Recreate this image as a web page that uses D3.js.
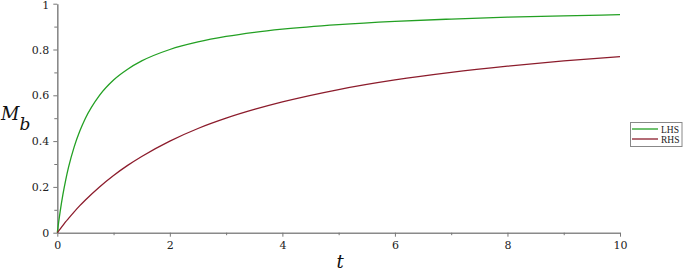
<!DOCTYPE html>
<html>
<head>
<meta charset="utf-8">
<script src="https://cdn.jsdelivr.net/npm/d3@7"></script>
<style>
  html, body { margin: 0; padding: 0; background: #fff; }
  svg { display: block; }
</style>
</head>
<body>
<svg id="chart" width="685" height="271"></svg>
<script>
// Data
const tValues = [0, 0.025, 0.05, 0.1, 0.15, 0.2, 0.3, 0.4, 0.5, 0.75, 1, 1.25, 1.5, 2, 2.5, 3, 3.5, 4, 5, 6, 7, 8, 9, 10];
const lhsValues = [0, 0.048, 0.091, 0.167, 0.231, 0.286, 0.375, 0.444, 0.5, 0.6, 0.667, 0.714, 0.75, 0.8, 0.833, 0.857, 0.875, 0.889, 0.909, 0.923, 0.933, 0.941, 0.947, 0.952];
const rhsValues = [0, 0.008, 0.016, 0.032, 0.048, 0.0625, 0.091, 0.118, 0.143, 0.2, 0.25, 0.294, 0.333, 0.4, 0.455, 0.5, 0.538, 0.571, 0.625, 0.667, 0.7, 0.727, 0.75, 0.769];
const seriesNames = ["LHS", "RHS"];
const seriesColors = ["#23a023", "#8c1c2c"];
const xMajorTicks = [0, 2, 4, 6, 8, 10];
const xMinorTicks = [1, 3, 5, 7, 9];
const yMajorTicks = [0, 0.2, 0.4, 0.6, 0.8, 1];
const yMinorTicks = [0.1, 0.3, 0.5, 0.7, 0.9];

const svg = d3.select("#chart");
const x = d3.scaleLinear().domain([0, 10]).range([57.3, 620]);
const y = d3.scaleLinear().domain([0, 1]).range([232.7, 3.7]);

const axisColor = "#8a8a8a";
const tickFont = "'DejaVu Serif', serif";

function styleAxis(g) {
  g.select(".domain").attr("stroke", axisColor).attr("stroke-width", 1.6);
  g.selectAll(".tick line").attr("stroke", "#777").attr("stroke-width", 1);
  g.selectAll(".tick text").attr("fill", "#222").style("font-family", tickFont).style("font-size", "11px");
}

// X axis
const gx = svg.append("g").attr("transform", `translate(0,${y(0)})`);
gx.call(d3.axisBottom(x).tickValues(xMajorTicks).tickSize(4).tickSizeOuter(0).tickPadding(5).tickFormat(d3.format("d")));
styleAxis(gx);
const gxm = svg.append("g").attr("transform", `translate(0,${y(0)})`);
gxm.call(d3.axisBottom(x).tickValues(xMinorTicks).tickSize(2.5).tickSizeOuter(0).tickFormat(""));
gxm.select(".domain").remove();
gxm.selectAll(".tick line").attr("stroke", "#777");

// Y axis
const gy = svg.append("g").attr("transform", `translate(${x(0)},0)`);
gy.call(d3.axisLeft(y).tickValues(yMajorTicks).tickSize(4).tickSizeOuter(0).tickPadding(4).tickFormat(d => d === 0 ? "0" : d === 1 ? "1" : d3.format(".1f")(d)));
styleAxis(gy);
// keep the top label inside the picture
gy.selectAll(".tick").filter(d => d === 1).select("text").attr("y", 1.5);
const gym = svg.append("g").attr("transform", `translate(${x(0)},0)`);
gym.call(d3.axisLeft(y).tickValues(yMinorTicks).tickSize(3).tickSizeOuter(0).tickFormat(""));
gym.select(".domain").remove();
gym.selectAll(".tick line").attr("stroke", "#777");

// Lines
const series = [lhsValues, rhsValues];
const line = d3.line().x((d, i) => x(tValues[i])).y(d => y(d)).curve(d3.curveMonotoneX);
series.forEach((vals, k) => {
  svg.append("path")
    .datum(vals)
    .attr("fill", "none")
    .attr("stroke", seriesColors[k])
    .attr("stroke-width", 1.3)
    .attr("d", line);
});

// Axis titles
const yTitle = svg.append("text")
  .attr("x", 1).attr("y", 120)
  .style("font-family", tickFont).style("font-style", "italic").style("font-size", "18px")
  .attr("fill", "#111");
yTitle.append("tspan").text("M");
yTitle.append("tspan").attr("dy", 10).style("font-size", "17px").text("b");

svg.append("text")
  .attr("x", 340).attr("y", 267.5)
  .attr("text-anchor", "middle")
  .style("font-family", tickFont).style("font-style", "italic").style("font-size", "18px")
  .attr("fill", "#111")
  .text("t");

// Legend
const legend = svg.append("g");
legend.append("rect")
  .attr("x", 630.5).attr("y", 122.5).attr("width", 51.5).attr("height", 24)
  .attr("fill", "#fff").attr("stroke", "#888").attr("stroke-width", 1);
seriesNames.forEach((name, k) => {
  const yy = 129 + k * 10;
  legend.append("line")
    .attr("x1", 632).attr("x2", 658).attr("y1", yy).attr("y2", yy)
    .attr("stroke", seriesColors[k]).attr("stroke-width", 1.3);
  legend.append("text")
    .attr("x", 661).attr("y", yy + 3.5)
    .style("font-family", "'Liberation Serif', serif").style("font-size", "9.5px")
    .attr("fill", "#222")
    .text(name);
});
</script>
</body>
</html>
